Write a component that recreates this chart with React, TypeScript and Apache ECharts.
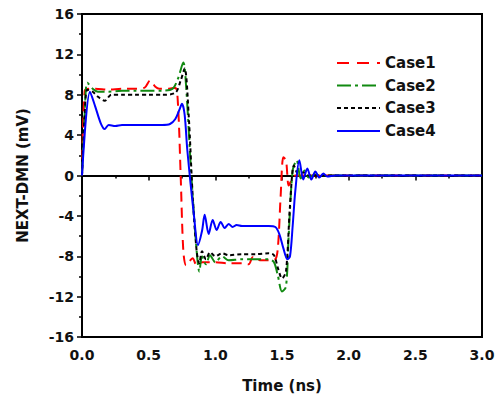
import React, { useEffect, useRef } from "react";
import * as echarts from "echarts";

const seriesNames = ["Case1", "Case2", "Case3", "Case4"];

const case1T = [0, 0.02, 0.05, 0.1, 0.2, 0.3, 0.4, 0.47, 0.51, 0.55, 0.58, 0.65, 0.7, 0.72, 0.74, 0.76, 0.78, 0.8, 0.83, 0.86, 0.9, 1.0, 1.1, 1.2, 1.25, 1.28, 1.3, 1.35, 1.4, 1.45, 1.47, 1.49, 1.51, 1.53, 1.55, 1.57, 1.6, 1.7, 2.0, 3.0];
const case1V = [0, 8.4, 8.6, 8.6, 8.5, 8.6, 8.6, 8.7, 9.4, 8.8, 8.6, 8.6, 8.7, 7.0, 0, -7.5, -8.9, -8.6, -8.2, -8.9, -8.6, -8.6, -8.7, -8.7, -8.8, -8.1, -8.3, -8.4, -8.4, -8.3, -7, -2, 1.8, 1.5, -1.0, -0.5, 0, 0, 0, 0];

const case2T = [0, 0.02, 0.04, 0.08, 0.12, 0.2, 0.3, 0.4, 0.5, 0.6, 0.68, 0.72, 0.76, 0.78, 0.82, 0.86, 0.88, 0.9, 0.93, 0.96, 1.0, 1.05, 1.1, 1.2, 1.3, 1.4, 1.44, 1.47, 1.5, 1.53, 1.55, 1.58, 1.61, 1.64, 1.67, 1.7, 1.75, 1.8, 2.0, 3.0];
const case2V = [0, 6, 9.2, 8.6, 8.3, 8.3, 8.4, 8.4, 8.4, 8.4, 8.6, 9.6, 11.2, 9.0, 0, -7.5, -9.5, -8.0, -8.8, -7.9, -8.6, -8.0, -8.4, -8.3, -8.3, -8.3, -8.6, -10.0, -11.5, -11.0, -6.0, 0.5, 1.5, -0.3, 0.5, -0.2, 0.1, 0, 0, 0];

const case3T = [0, 0.02, 0.04, 0.08, 0.12, 0.17, 0.22, 0.3, 0.4, 0.5, 0.6, 0.7, 0.74, 0.77, 0.8, 0.83, 0.86, 0.88, 0.9, 0.93, 0.96, 1.0, 1.05, 1.1, 1.2, 1.3, 1.4, 1.44, 1.47, 1.5, 1.53, 1.56, 1.59, 1.62, 1.66, 1.7, 1.8, 2.0, 3.0];
const case3V = [0, 6, 8.5, 8.3, 7.8, 7.4, 8.0, 8.0, 8.0, 8.0, 8.0, 8.2, 9.4, 10.6, 6, -2, -7.5, -8.7, -7.5, -8.3, -7.6, -8.0, -7.7, -7.9, -7.8, -7.8, -7.7, -7.9, -9.2, -10.2, -9.5, -3, 1.0, 0.2, 0.3, 0, 0, 0, 0];

const case4T = [0, 0.06, 0.1, 0.14, 0.17, 0.2, 0.25, 0.3, 0.4, 0.5, 0.6, 0.66, 0.7, 0.73, 0.75, 0.77, 0.79, 0.84, 0.87, 0.9, 0.92, 0.95, 0.98, 1.01, 1.04, 1.07, 1.1, 1.13, 1.16, 1.2, 1.3, 1.4, 1.45, 1.48, 1.51, 1.54, 1.56, 1.58, 1.6, 1.63, 1.66, 1.69, 1.72, 1.75, 1.78, 1.81, 1.84, 1.9, 2.0, 2.5, 3.0];
const case4V = [0, 8.3, 6.8, 5.2, 4.6, 5.0, 4.9, 5.0, 5.0, 5.0, 5.0, 5.1, 5.6, 6.5, 7.1, 6.0, 2.5, -4.0, -6.9, -5.5, -3.9, -5.8, -4.4, -5.4, -4.6, -5.2, -4.8, -5.1, -4.9, -5.0, -5.0, -5.0, -5.1, -5.8, -7.2, -8.3, -8.0, -5.0, -1.5, 1.5, -0.4, 0.7, -0.4, 0.4, -0.2, 0.2, -0.1, 0, 0, 0, 0];

const colors = ["#ff0000", "#118a11", "#000000", "#0000ff"];
const dashes: any[] = [[10, 6], [14, 4, 3, 4], [4, 3], "solid"];
const legendDashes: any[] = [[12, 8], [14, 4, 3, 4], [4, 3], null];

const FONT = "DejaVu Sans";

function pairs(t: number[], v: number[]) {
  return t.map((x, i) => [x, v[i]]);
}

export default function App() {
  const ref = useRef<HTMLDivElement>(null);
  useEffect(() => {
    if (!ref.current) return;
    const chart = echarts.init(ref.current, null, { renderer: "svg" });
    const datasets = [pairs(case1T, case1V), pairs(case2T, case2V), pairs(case3T, case3V), pairs(case4T, case4V)];
    const legendRowsY = [63, 85.5, 108, 131];
    const legendGraphics: any[] = [];
    seriesNames.forEach((n, i) => {
      legendGraphics.push({
        type: "line",
        shape: { x1: 337, y1: legendRowsY[i], x2: 380, y2: legendRowsY[i] },
        style: { stroke: colors[i], lineWidth: 2, lineDash: legendDashes[i] },
      });
      legendGraphics.push({
        type: "text",
        x: 385,
        y: legendRowsY[i],
        style: {
          text: n,
          fontFamily: FONT,
          fontWeight: "bold",
          fontSize: 15,
          fill: "#111",
          verticalAlign: "middle",
          align: "left",
        },
      });
    });
    chart.setOption({
      animation: false,
      backgroundColor: "#ffffff",
      grid: {
        left: 82,
        right: 17,
        top: 14,
        bottom: 61,
        show: true,
        borderColor: "#000",
        borderWidth: 2,
      },
      graphic: legendGraphics,
      xAxis: {
        type: "value",
        min: 0,
        max: 3,
        interval: 0.5,
        name: "Time (ns)",
        nameLocation: "middle",
        nameGap: 41,
        nameTextStyle: { fontFamily: FONT, fontWeight: "bold", fontSize: 15, color: "#111" },
        axisLine: { lineStyle: { color: "#000", width: 2 } },
        axisTick: { show: true, inside: false, length: 5, lineStyle: { color: "#000", width: 1.5 } },
        minorTick: { show: true, splitNumber: 2, length: 3, lineStyle: { color: "#000", width: 1.5 } },
        splitLine: { show: false },
        axisLabel: {
          margin: 11,
          fontFamily: FONT,
          fontWeight: "bold",
          fontSize: 14,
          color: "#111",
          formatter: (v: number) => v.toFixed(1),
        },
      },
      yAxis: {
        type: "value",
        min: -16,
        max: 16,
        interval: 4,
        name: "NEXT-DMN (mV)",
        nameLocation: "middle",
        nameGap: 52,
        nameTextStyle: { fontFamily: FONT, fontWeight: "bold", fontSize: 15, color: "#111" },
        axisLine: { lineStyle: { color: "#000", width: 2 } },
        axisTick: { show: true, inside: false, length: 5, lineStyle: { color: "#000", width: 1.5 } },
        minorTick: { show: true, splitNumber: 2, length: 3, lineStyle: { color: "#000", width: 1.5 } },
        splitLine: { show: false },
        axisLabel: {
          margin: 8,
          fontFamily: FONT,
          fontWeight: "bold",
          fontSize: 14,
          color: "#111",
        },
      },
      series: datasets.map((d, i) => ({
        name: seriesNames[i],
        type: "line",
        data: d,
        showSymbol: false,
        symbol: "none",
        smooth: 0.3,
        lineStyle: { color: colors[i], width: 2, type: dashes[i] },
        itemStyle: { color: colors[i] },
        z: 2 + i,
      })),
    });
    return () => chart.dispose();
  }, []);
  return (
    <div
      ref={ref}
      style={{ position: "fixed", left: 0, top: 0, width: 499, height: 398, background: "#fff" }}
    />
  );
}
